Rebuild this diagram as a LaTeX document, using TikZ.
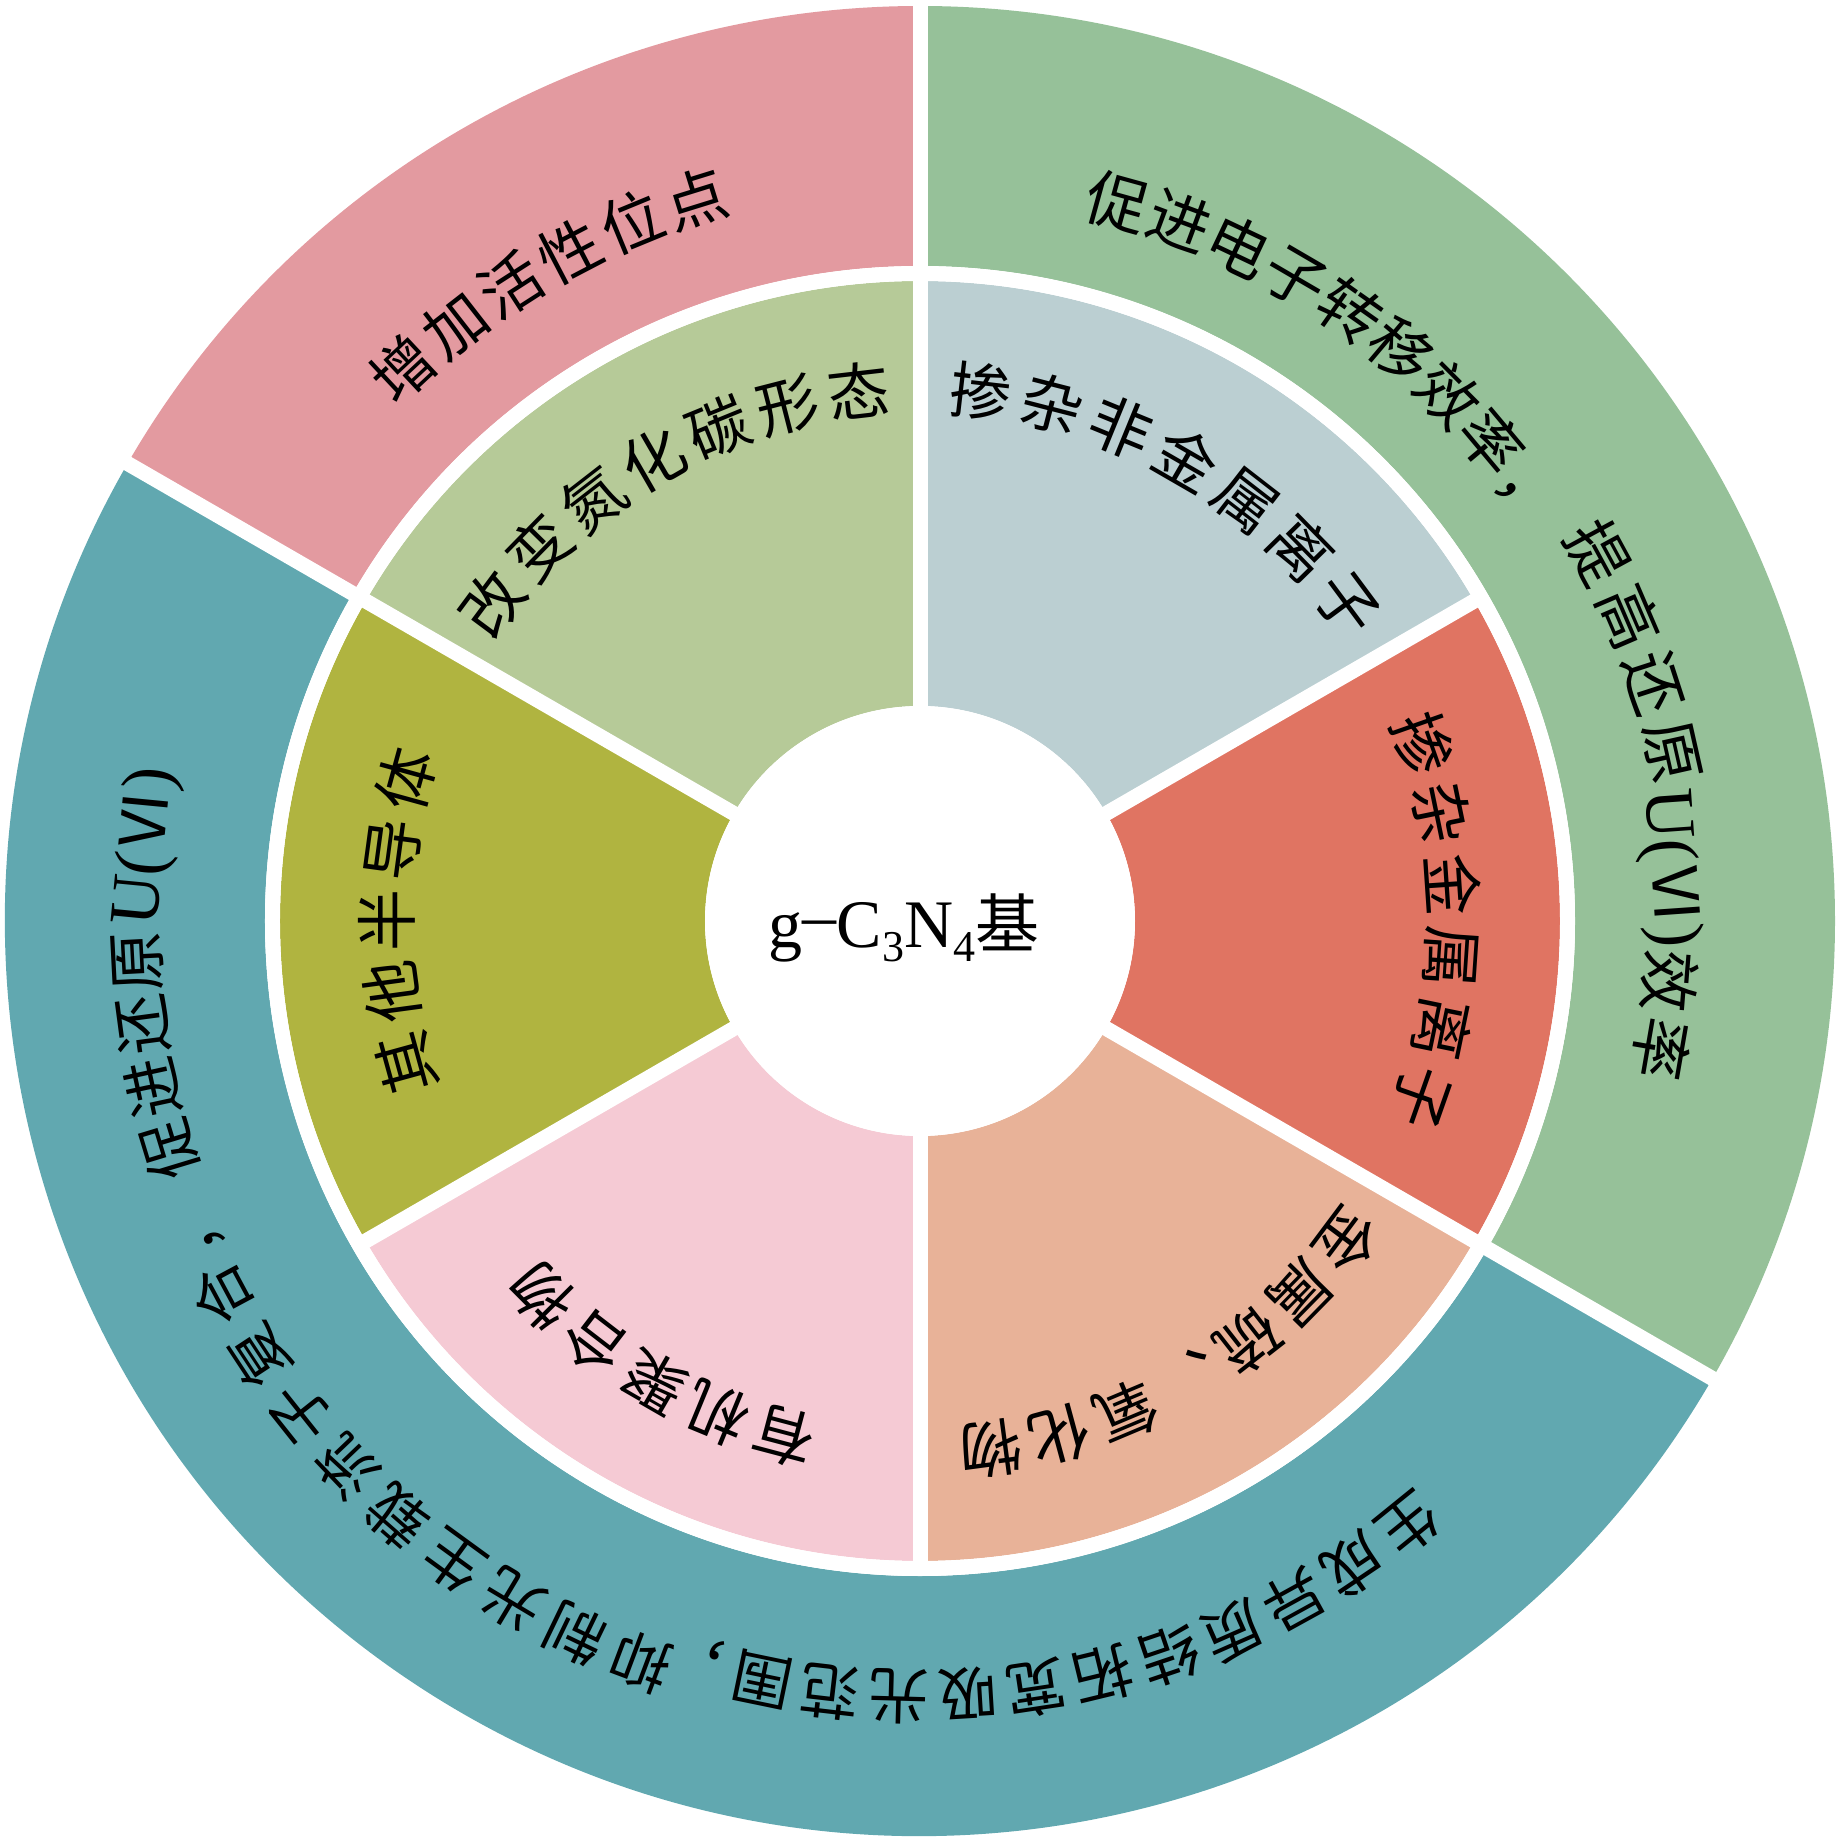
\documentclass[tikz,border=0pt]{standalone}
\usepackage{fontspec}
\setmainfont{Liberation Serif}
\newfontfamily\cjk{Noto Sans CJK SC}
\definecolor{pinkO}{HTML}{E39AA0}
\definecolor{greenO}{HTML}{96C199}
\definecolor{tealO}{HTML}{61A8B0}
\definecolor{lgreenI}{HTML}{B6CA98}
\definecolor{blueI}{HTML}{BBCFD2}
\definecolor{coralI}{HTML}{E07462}
\definecolor{peachI}{HTML}{E8B298}
\definecolor{lpinkI}{HTML}{F5CAD4}
\definecolor{oliveI}{HTML}{B0B440}
\tikzset{
  chr/.style={inner sep=0pt, outer sep=0pt, anchor=base, text=black},
  gapline/.style={draw=white, line width=15pt},
}
% annular sector: colour, start angle, end angle, inner r, outer r
\newcommand\annsec[5]{\fill[#1] (#2:#4pt) arc[start angle=#2, end angle=#3, radius=#4pt] -- (#3:#5pt) arc[start angle=#3, end angle=#2, radius=#5pt] -- cycle;}
% text along a clockwise arc, tops outward: size, centre radius, start angle, step, list, name
\newcommand\arctext[6]{%
  \pgfmathsetmacro\rbase{#2-0.38*#1}%
  \foreach \ch [count=\i from 0] in {#5} {%
    \pgfmathsetmacro\ang{#3-\i*#4}%
    \pgfmathsetmacro\rot{\ang-90}%
    \node[chr, font=\cjk\fontsize{#1pt}{#1pt}\selectfont, rotate=\rot] (#6\i) at (\ang:\rbase pt) {\ch};
  }}
% Latin group U(VI): size, centre radius, angle, name
\newcommand\uvi[4]{%
  \pgfmathsetmacro\rbase{#2-0.34*#1}%
  \pgfmathsetmacro\rot{#3-90}%
  \node[chr, font=\fontsize{#1pt}{#1pt}\selectfont, rotate=\rot] (#4) at (#3:\rbase pt) {U({\cjk\fontsize{62pt}{62pt}\selectfont Ⅵ})};}
\begin{document}
\begin{tikzpicture}[x=1pt,y=1pt]
\useasboundingbox (-920,-922) rectangle (923,921);
% outer ring
\annsec{pinkO}{90}{150}{655}{915}
\annsec{greenO}{-30}{90}{655}{915}
\annsec{tealO}{150}{330}{655}{915}
% inner ring
\annsec{lgreenI}{90}{150}{215}{640}
\annsec{blueI}{30}{90}{215}{640}
\annsec{coralI}{-30}{30}{215}{640}
\annsec{peachI}{-90}{-30}{215}{640}
\annsec{lpinkI}{-150}{-90}{215}{640}
\annsec{oliveI}{150}{210}{215}{640}
% white gaps
\foreach \a in {90,30,-30,-90,-150,150} \draw[gapline] (0,0) -- (\a:648pt);
\foreach \a in {90,150,-30} \draw[gapline] (\a:640pt) -- (\a:935pt);
\draw[gapline] (0,0) circle[radius=647.5pt];
\fill[white] (0,0) circle[radius=215pt];
% centre
\node[anchor=base, inner sep=0pt, font=\fontsize{68pt}{68pt}\selectfont] (core) at (-16,-27)
  {g\raisebox{9pt}{–}C\raisebox{-14pt}{\fontsize{44pt}{44pt}\selectfont 3}N\raisebox{-14pt}{\fontsize{44pt}{44pt}\selectfont 4}{\cjk\fontsize{64pt}{64pt}\selectfont 基}};
% outer pink
\arctext{62}{756}{133.1}{5.18}{增,加,活,性,位,点}{pk}
% outer green
\arctext{62}{746}{74.6}{4.95}{促,进,电,子,转,移,效,率,，}{ga}
\arctext{62}{772}{28.5}{5.27}{提,高,还,原}{gb}
\uvi{70}{757}{4.0}{gu}
\arctext{62}{752}{-4.6}{5.2}{效,率}{gd}
% outer teal
\arctext{60}{776}{-51.0}{5.07}{生,成,异,质,结,拓,宽,吸,光,范,围,，}{ta}
\arctext{60}{792}{-110.6}{5.15}{抑,制,光,生,载,流,子,复,合,，}{tb}
\arctext{60}{785}{196.9}{4.65}{促,进,还,原}{tc}
\uvi{70}{783}{174.5}{tu}
% inner ring texts
\arctext{62}{533}{143.4}{7.8}{改,变,氮,化,碳,形,态}{ia}
\arctext{62}{533}{83.4}{7.8}{掺,杂,非,金,属,离,子}{ib}
\arctext{62}{533}{19.4}{7.76}{掺,杂,金,属,离,子}{ic}
\arctext{62}{533}{-36.8}{7.6}{金,属,硫,、,氧,化,物}{id}
\arctext{62}{533}{-104.8}{7.6}{有,机,聚,合,物}{ie}
\arctext{62}{533}{195.4}{7.7}{其,他,半,导,体}{if}
\end{tikzpicture}
\end{document}
